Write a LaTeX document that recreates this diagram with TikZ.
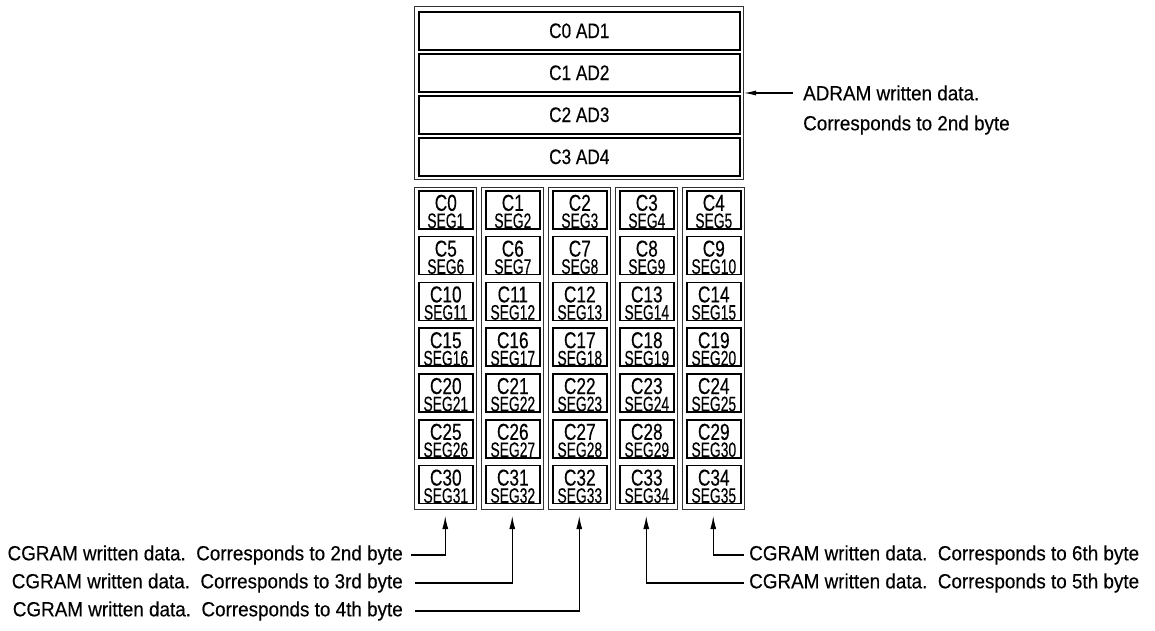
\documentclass[tikz,border=0pt]{standalone}
\usepackage{fontspec}
\setmainfont{Liberation Sans}
\newfontfamily\fTop[FakeStretch=0.82,FakeBold=0.3]{Liberation Sans}
\newfontfamily\fCc[FakeStretch=0.75,FakeBold=0.3]{Liberation Sans}
\newfontfamily\fSeg[FakeStretch=0.66,FakeBold=0.3]{Liberation Sans}
\newfontfamily\fLab[FakeStretch=0.92,FakeBold=0.3]{Liberation Sans}
\usetikzlibrary{arrows.meta,calc}
\newcommand\celltext[2]{\vbox to 38pt{\offinterlineskip
  \hbox to 54pt{\hss\vrule height 20pt depth 0pt width 0pt{\fCc\fontsize{23}{23}\selectfont #1}\hss}%
  \hbox to 54pt{\hss\vrule height 17pt depth 0pt width 0pt{\fSeg\fontsize{21}{21}\selectfont #2}\hss}%
  \vss}}
\begin{document}
\begin{tikzpicture}[x=1pt,y=-1pt,
  outerbox/.style={draw=black!80,line width=1pt,inner sep=0pt},
  innerbox/.style={draw=black,line width=1.6pt,inner sep=0pt},
  toptext/.style={font=\fTop\fontsize{21}{21}\selectfont},
  labtext/.style={font=\fLab\fontsize{20.5}{30}\selectfont,inner sep=0pt},
  conn/.style={line width=1.1pt,-{Latex[length=13pt,width=6pt]}},
  connb/.style={line width=1.1pt,-{Latex[length=12pt,width=5pt]}}]
\useasboundingbox (0,0) rectangle (1155,630);

% ADRAM block
\node[outerbox,anchor=north west,minimum width=329pt,minimum height=173pt] (top) at (414,6) {};
\foreach \j in {0,...,3}{
  \pgfmathtruncatemacro\k{\j+1}
  \node[innerbox,toptext,anchor=north west,minimum width=321pt,minimum height=38pt]
    (row\j) at (418,11+42*\j) {C\j\ AD\k};
}

% CGRAM columns
\foreach \i in {0,...,4}{
  \node[outerbox,anchor=north west,minimum width=61.5pt,minimum height=322pt]
    (col\i) at (414+67*\i,187) {};
  \foreach \j in {0,...,6}{
    \pgfmathtruncatemacro\n{5*\j+\i}
    \pgfmathtruncatemacro\m{\n+1}
    \node[innerbox,anchor=north west]
      (cell-\i-\j) at (418+67*\i,190+45.8*\j) {\celltext{C\n}{SEG\m}};
  }
  \coordinate (a\i) at ($(col\i.south)+(0,6)$);
}

% labels
\node[labtext,anchor=east] (l2) at (403,555) {CGRAM written data.\ \ Corresponds to 2nd byte};
\node[labtext,anchor=east] (l3) at (403,583) {CGRAM written data.\ \ Corresponds to 3rd byte};
\node[labtext,anchor=east] (l4) at (403,611) {CGRAM written data.\ \ Corresponds to 4th byte};
\node[labtext,anchor=west] (r6) at (749,555) {CGRAM written data.\ \ Corresponds to 6th byte};
\node[labtext,anchor=west] (r5) at (749,583) {CGRAM written data.\ \ Corresponds to 5th byte};
\node[labtext,anchor=west,align=left] (adr) at (803,110) {ADRAM written data.\\Corresponds to 2nd byte};

% connectors
\draw[conn] ([xshift=8pt]l2.east) -| (a0);
\draw[conn] ([xshift=12pt]l3.east) -| (a1);
\draw[conn] ([xshift=12pt]l4.east) -| (a2);
\draw[conn] ([xshift=-5pt]r5.west) -| (a3);
\draw[conn] ([xshift=-5pt]r6.west) -| (a4);
\coordinate (adstart) at (793,93);
\draw[connb] (adstart) -- (top.east);
\end{tikzpicture}
\end{document}
